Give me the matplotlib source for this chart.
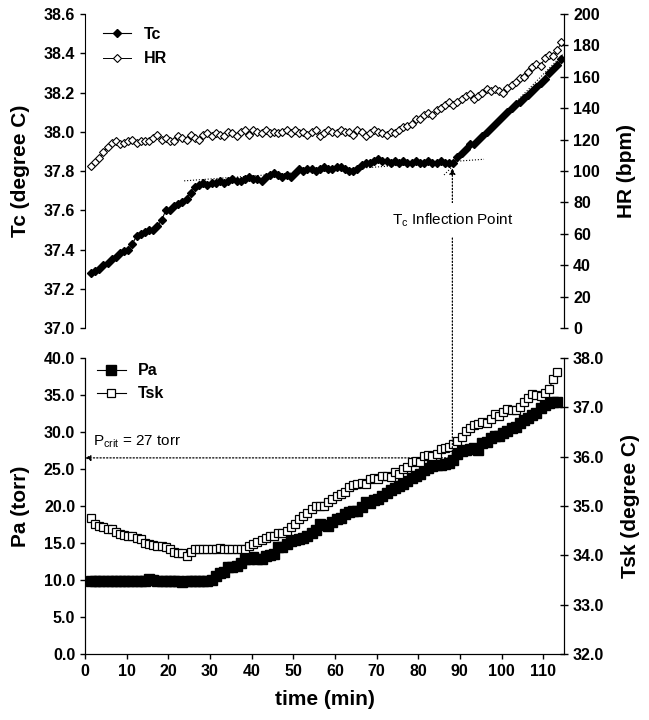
import numpy as np
import matplotlib
matplotlib.use("Agg")  # no display
import matplotlib.pyplot as plt
from matplotlib.patches import ConnectionPatch

plt.rcParams["font.family"] = ["Liberation Sans", "DejaVu Sans"]

# sampling times (min), one reading per minute
minutes = np.arange(1.4, 114.5, 1.0)

# core temperature (degree C)
tc = [37.28, 37.29, 37.30, 37.32, 37.33, 37.35, 37.36, 37.38, 37.39, 37.40,
      37.43, 37.47, 37.48, 37.49, 37.50, 37.50, 37.52, 37.55, 37.60, 37.60,
      37.62, 37.63, 37.64, 37.66, 37.69, 37.72, 37.73, 37.74, 37.73, 37.74,
      37.74, 37.75, 37.74, 37.75, 37.76, 37.75, 37.75, 37.76, 37.77, 37.76,
      37.76, 37.75, 37.77, 37.78, 37.79, 37.78, 37.77, 37.78, 37.77, 37.79,
      37.81, 37.80, 37.81, 37.81, 37.80, 37.81, 37.82, 37.81, 37.81, 37.82,
      37.82, 37.81, 37.80, 37.80, 37.81, 37.83, 37.84, 37.84, 37.85, 37.86,
      37.85, 37.85, 37.84, 37.85, 37.84, 37.85, 37.84, 37.84, 37.85, 37.84,
      37.84, 37.85, 37.84, 37.84, 37.85, 37.84, 37.84, 37.84, 37.87, 37.89,
      37.91, 37.94, 37.94, 37.96, 37.98, 38.00, 38.02, 38.04, 38.06, 38.08,
      38.10, 38.12, 38.14, 38.15, 38.17, 38.19, 38.21, 38.23, 38.25, 38.27,
      38.30, 38.32, 38.34, 38.37]

# heart rate (bpm)
hr = [103, 106, 108, 112, 115, 118, 119, 117, 118, 119,
      120, 118, 119, 119, 119, 121, 123, 120, 121, 119,
      119, 122, 121, 120, 123, 121, 120, 123, 124, 122,
      124, 123, 122, 125, 124, 122, 125, 126, 123, 126,
      125, 124, 126, 124, 125, 124, 125, 126, 124, 126,
      124, 125, 123, 125, 126, 122, 124, 126, 125, 124,
      126, 125, 125, 123, 126, 125, 122, 124, 126, 125,
      124, 123, 125, 124, 126, 128, 129, 130, 133, 133,
      136, 137, 136, 139, 140, 142, 144, 142, 144, 146,
      148, 149, 146, 148, 150, 152, 151, 152, 151, 150,
      153, 155, 157, 159, 160, 163, 166, 168, 167, 172,
      174, 173, 177, 182]

# ambient vapour pressure (torr)
pa = [9.9, 9.9, 9.9, 9.8, 9.9, 9.9, 9.9, 9.8, 9.9, 9.9,
      9.9, 9.8, 9.8, 9.9, 10.1, 10.0, 9.9, 9.9, 9.9, 9.8,
      9.9, 9.8, 9.7, 9.8, 9.9, 9.8, 9.9, 9.9, 9.9, 10.0,
      10.6, 11.0, 11.1, 11.7, 11.8, 11.9, 12.3, 12.8, 12.9, 13.1,
      12.9, 12.9, 13.2, 13.4, 13.5, 14.4, 14.4, 14.8, 15.3, 15.4,
      15.6, 15.7, 16.0, 16.3, 16.7, 17.5, 17.4, 17.3, 17.8, 18.3,
      18.4, 18.9, 19.2, 19.3, 19.3, 19.9, 20.5, 20.4, 20.8, 21.0,
      21.4, 21.7, 22.2, 22.4, 22.7, 23.0, 23.4, 23.8, 24.1, 24.3,
      24.8, 25.2, 25.4, 25.5, 25.6, 25.7, 25.8, 26.2, 27.0, 27.4,
      27.5, 27.7, 27.8, 27.5, 28.5, 28.7, 29.2, 29.4, 29.5, 29.9,
      30.2, 30.5, 30.7, 31.2, 31.6, 31.9, 32.3, 32.6, 33.2, 33.6,
      33.9, 34.1, 34.1]

# skin temperature (degree C)
tsk = [34.75, 34.64, 34.60, 34.57, 34.54, 34.54, 34.48, 34.43, 34.42, 34.39,
       34.39, 34.36, 34.34, 34.25, 34.22, 34.21, 34.19, 34.18, 34.16, 34.13,
       34.06, 34.04, 34.04, 33.98, 34.07, 34.12, 34.12, 34.12, 34.12, 34.13,
       34.13, 34.15, 34.13, 34.12, 34.12, 34.12, 34.12, 34.12, 34.19, 34.22,
       34.27, 34.31, 34.36, 34.39, 34.40, 34.45, 34.46, 34.49, 34.58, 34.64,
       34.73, 34.79, 34.85, 34.93, 34.99, 35.00, 35.00, 35.08, 35.14, 35.20,
       35.24, 35.29, 35.38, 35.42, 35.45, 35.47, 35.45, 35.54, 35.57, 35.54,
       35.60, 35.60, 35.59, 35.69, 35.65, 35.74, 35.80, 35.89, 35.92, 35.90,
       36.01, 36.04, 36.02, 36.05, 36.16, 36.17, 36.19, 36.25, 36.31, 36.40,
       36.52, 36.59, 36.64, 36.67, 36.70, 36.68, 36.77, 36.86, 36.82, 36.91,
       36.97, 36.95, 36.95, 37.01, 37.10, 37.19, 37.27, 37.24, 37.22, 37.30,
       37.37, 37.57, 37.72]

# inflection annotation and the two fitted segments
t_inflect = 88.2
tc_inflect = 37.815
pa_crit_line = 26.5
plateau_fit_x = [23.8, 95.8]
plateau_fit_y = [37.75, 37.86]
rise_fit_x = [86.2, 115.0]
rise_fit_y = [37.78, 38.40]

tick_font = {"fontsize": 11.5, "fontweight": "bold"}
label_font = {"fontsize": 15, "fontweight": "bold"}

fig = plt.figure(figsize=(6.49, 7.2), dpi=100)
ax_tc = fig.add_axes([0.131, 0.5444, 0.738, 0.4361])
ax_hr = ax_tc.twinx()
ax_pa = fig.add_axes([0.131, 0.0917, 0.738, 0.4111])
ax_tsk = ax_pa.twinx()

# --- top panel: Tc and HR ---
ax_tc.plot(plateau_fit_x, plateau_fit_y, ":", color="black", lw=0.8, zorder=1)
ax_tc.plot(rise_fit_x, rise_fit_y, ":", color="black", lw=0.8, zorder=1)
ln_tc, = ax_tc.plot(minutes, tc, "-", color="black", lw=0.8, marker="D",
                    ms=3.7, mfc="black", mec="black", label="Tc", zorder=2)
ln_hr, = ax_hr.plot(minutes, hr, "-", color="black", lw=0.7, marker="D",
                    ms=4.3, mfc="white", mec="black", mew=0.8, label="HR")

ax_tc.set_xlim(0, 115)
ax_tc.set_ylim(37.0, 38.6)
ax_tc.set_yticks(np.arange(37.0, 38.61, 0.2))
ax_tc.set_yticklabels([f"{v:.1f}" for v in np.arange(37.0, 38.61, 0.2)], **tick_font)
ax_hr.set_ylim(0, 200)
ax_hr.set_yticks(np.arange(0, 201, 20))
ax_hr.set_yticklabels([f"{v:d}" for v in np.arange(0, 201, 20)], **tick_font)
ax_tc.tick_params(axis="x", bottom=False, labelbottom=False)
ax_hr.tick_params(axis="x", bottom=False, labelbottom=False)
ax_tc.tick_params(axis="y", direction="out", length=3.6, width=1)
ax_hr.tick_params(axis="y", direction="inout", length=6, width=1)
for ax in (ax_tc, ax_hr):
    ax.spines["top"].set_visible(False)
    ax.spines["bottom"].set_visible(False)
ax_hr.spines["left"].set_visible(False)
ax_tc.set_ylabel("Tc (degree C)", labelpad=10, **label_font)
ax_hr.set_ylabel("HR (bpm)", labelpad=12, **label_font)

ax_hr.legend([ln_tc, ln_hr], ["Tc", "HR"], loc="upper left",
             bbox_to_anchor=(0.037, 0.96), frameon=False,
             prop={"size": 11.5, "weight": "bold"}, handlelength=1.8,
             handletextpad=0.75, labelspacing=0.6, borderpad=0, borderaxespad=0)

# --- bottom panel: Pa and Tsk ---
ln_pa, = ax_pa.plot(minutes[:len(pa)], pa, "-", color="black", lw=0.8, marker="s",
                    ms=6.5, mfc="black", mec="black", label="Pa")
ln_tsk, = ax_tsk.plot(minutes[:len(tsk)], tsk, "-", color="black", lw=0.8, marker="s",
                      ms=6, mfc="white", mec="black", mew=0.9, label="Tsk")

ax_pa.set_xlim(0, 115)
ax_pa.set_xticks(np.arange(0, 111, 10))
ax_pa.set_xticklabels([str(v) for v in np.arange(0, 111, 10)], **tick_font)
ax_pa.set_ylim(0, 40)
ax_pa.set_yticks(np.arange(0, 40.1, 5))
ax_pa.set_yticklabels([f"{v:.1f}" for v in np.arange(0, 40.1, 5)], **tick_font)
ax_tsk.set_ylim(32, 38)
ax_tsk.set_yticks(np.arange(32, 38.1, 1))
ax_tsk.set_yticklabels([f"{v:.1f}" for v in np.arange(32, 38.1, 1)], **tick_font)
ax_pa.tick_params(axis="both", direction="out", length=3.6, width=1)
ax_tsk.tick_params(axis="y", direction="inout", length=6, width=1)
for ax in (ax_pa, ax_tsk):
    ax.spines["top"].set_visible(False)
ax_pa.set_ylabel("Pa (torr)", labelpad=10, **label_font)
ax_tsk.set_ylabel("Tsk (degree C)", labelpad=12, **label_font)
ax_pa.set_xlabel("time (min)", labelpad=8, **label_font)

ax_tsk.legend([ln_pa, ln_tsk], ["Pa", "Tsk"], loc="upper left",
              bbox_to_anchor=(0.025, 0.982), frameon=False,
              prop={"size": 11.5, "weight": "bold"}, handlelength=1.8,
              handletextpad=0.75, labelspacing=0.5, borderpad=0, borderaxespad=0)

# --- annotations ---
ax_pa.annotate("", xy=(0, pa_crit_line), xytext=(t_inflect, pa_crit_line),
               arrowprops=dict(arrowstyle="-|>", linestyle=":", lw=0.9, color="black",
                               mutation_scale=8, shrinkA=0, shrinkB=0),
               annotation_clip=False)
ax_pa.text(1.9, 28.7, r"P$_\mathregular{crit}$ = 27 torr", fontsize=11, va="center")

con = ConnectionPatch(xyA=(t_inflect, pa_crit_line), coordsA=ax_pa.transData,
                      xyB=(t_inflect, tc_inflect), coordsB=ax_tc.transData,
                      arrowstyle="-|>", linestyle=":", lw=0.9, color="black",
                      mutation_scale=9)
fig.add_artist(con)
fig.text(t_inflect, 37.55, r"T$_\mathregular{c}$ Inflection Point", transform=ax_tc.transData,
         ha="center", va="center", fontsize=11,
         bbox=dict(facecolor="white", edgecolor="none", pad=6))

fig.savefig("out.png", dpi=100)
